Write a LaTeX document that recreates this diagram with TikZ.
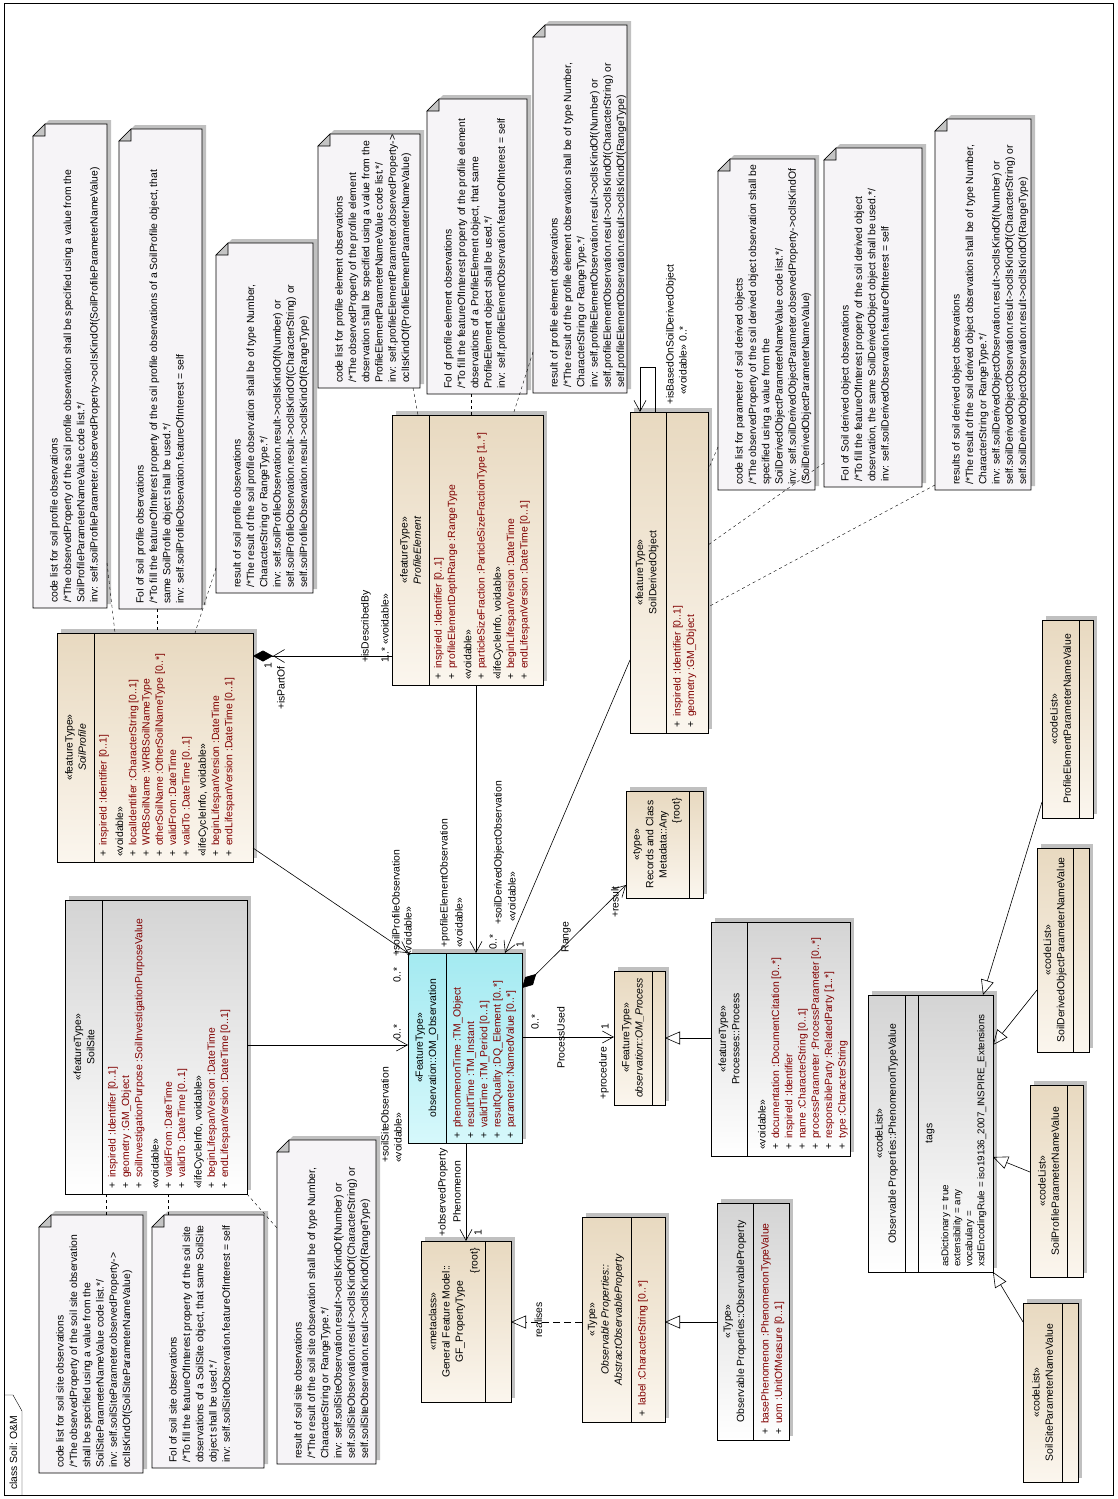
\documentclass[tikz,border=0pt]{standalone}
\usepackage{fontspec}
\setmainfont{Liberation Sans}
\usetikzlibrary{positioning, arrows.meta, fit, calc, shadows}

\definecolor{tanTop}{RGB}{232,217,192}
\definecolor{tanBot}{RGB}{251,246,238}
\definecolor{grayTop}{RGB}{212,212,212}
\definecolor{cyanTop}{RGB}{164,234,241}
\definecolor{cyanBot}{RGB}{214,248,251}
\definecolor{noteFill}{RGB}{246,244,247}
\definecolor{foldGray}{RGB}{196,196,196}
\definecolor{shadowGray}{RGB}{192,192,192}
\definecolor{attrRed}{RGB}{128,0,0}

\newcommand{\umlattr}[1]{\makebox[11pt][l]{+}\textcolor{attrRed}{#1}}

\begin{document}
\begin{tikzpicture}[
        x=1pt, y=-1pt,
        font=\fontsize{10.4}{13.3}\selectfont,
        >={Straight Barb[length=11pt, width=12pt]},
        umlbox/.style={draw, line width=0.6pt, inner sep=0pt, outer sep=0pt,
            drop shadow={shadow xshift=4pt, shadow yshift=4pt, fill=shadowGray, opacity=1}},
        tanbox/.style={umlbox, top color=tanTop, bottom color=tanBot},
        graybox/.style={umlbox, top color=grayTop, bottom color=white},
        cyanbox/.style={umlbox, top color=cyanTop, bottom color=cyanBot},
        notearea/.style={inner sep=0pt, outer sep=0pt},
        notebody/.style={fill=noteFill, line width=0.6pt,
            drop shadow={shadow xshift=4pt, shadow yshift=4pt, fill=shadowGray, opacity=1}},
        notetext/.style={rotate=90, anchor=north west, align=left, inner sep=0pt},
        hdr/.style={rotate=90, align=center, inner sep=0pt},
        attrs/.style={rotate=90, anchor=north west, align=left, inner sep=0pt},
        lbl/.style={rotate=90, anchor=west, inner sep=0pt},
        mult/.style={rotate=90, inner sep=0pt},
        assoc/.style={draw, line width=0.6pt},
        nav/.style={assoc, ->},
        gen/.style={assoc, -{Triangle[open, length=15pt, width=13pt]}},
        noteline/.style={draw, dash pattern=on 3pt off 3pt}
    ]

        % ======================================
        % Frame
        % ======================================
        \useasboundingbox (0,0) rectangle (1118,1499);
        \draw[line width=0.8pt] (4,3) rectangle (1113,1495);
        \draw (4,1395) -- (13,1395) -- (22,1411) -- (22,1495);
        \node[lbl] (title) at (13.5,1490) {class Soil: O\&M};

        % ======================================
        % Notes
        % ======================================
        \node[notearea, fit={(33,124) (107,608)}] (n1) {};
        \node[notearea, fit={(119,129) (202,609)}] (n2) {};
        \node[notearea, fit={(216,243) (313,593)}] (n3) {};
        \node[notearea, fit={(318,134) (420,388)}] (n4) {};
        \node[notearea, fit={(427,99) (527,394)}] (n5) {};
        \node[notearea, fit={(533,25) (627,393)}] (n6) {};
        \node[notearea, fit={(718,159) (815,490)}] (n7) {};
        \node[notearea, fit={(824,148) (922,487)}] (n8) {};
        \node[notearea, fit={(935,119) (1031,490)}] (n9) {};
        \node[notearea, fit={(39,1215) (143,1473)}] (n10) {};
        \node[notearea, fit={(152,1215) (264,1468)}] (n11) {};
        \node[notearea, fit={(277,1140) (376,1464)}] (n12) {};

        \foreach \n in {n1,n2,n3,n4,n5,n6,n7,n8,n9,n10,n11,n12} {
            \filldraw[notebody] ([xshift=12pt]\n.north west) -- (\n.north east) -- (\n.south east)
                -- (\n.south west) -- ([yshift=-12pt]\n.north west) -- cycle;
            \filldraw[fill=foldGray, line width=0.6pt] ([yshift=-12pt]\n.north west) -- ([xshift=12pt]\n.north west)
                -- ([xshift=12pt, yshift=-12pt]\n.north west) -- cycle;
        }

        \node[notetext] at ([xshift=17pt, yshift=5pt]n1.south west) {code list for soil profile observations\\
            /*The observedProperty of the soil profile observation shall be specified using a value from the\\
            SoilProfileParameterNameValue code list.*/\\
            inv: self.soilProfileParameter.observedProperty->oclIsKindOf(SoilProfileParameterNameValue)};
        \node[notetext] at ([xshift=17pt, yshift=5pt]n2.south west) {FoI of soil profile observations\\
            /*To fill the featureOfInterest property of the soil profile observations of a SoilProfile object, that\\
            same SoilProfile object shall be used.*/\\
            inv: self.soilProfileObservation.featureOfInterest = self};
        \node[notetext] at ([xshift=17pt, yshift=5pt]n3.south west) {result of soil profile observations\\
            /*The result of the soil profile observation shall be of type Number,\\
            CharacterString or RangeType.*/\\
            inv: self.soilProfileObservation.result->oclIsKindOf(Number) or\\
            self.soilProfileObservation.result->oclIsKindOf(CharacterString) or\\
            self.soilProfileObservation.result->oclIsKindOf(RangeType)};
        \node[notetext] at ([xshift=17pt, yshift=5pt]n4.south west) {code list for profile element observations\\
            /*The observedProperty of the  profile element\\
            observation shall be specified using a value from the\\
            ProfileElementParameterNameValue code list.*/\\
            inv: self.profileElementParameter.observedProperty->\\
            oclIsKindOf(ProfileElementParameterNameValue)};
        \node[notetext] at ([xshift=17pt, yshift=5pt]n5.south west) {FoI of profile element observations\\
            /*To fill the featureOfInterest property of the profile element\\
            observations of a ProfileElement object, that same\\
            ProfileElement object shall be used.*/\\
            inv: self.profileElementObservation.featureOfInterest = self};
        \node[notetext] at ([xshift=17pt, yshift=5pt]n6.south west) {result of profile element observations\\
            /*The result of the profile element observation shall be of type Number,\\
            CharacterString or RangeType.*/\\
            inv: self.profileElementObservation.result->oclIsKindOf(Number) or\\
            self.profileElementObservation.result->oclIsKindOf(CharacterString) or\\
            self.profileElementObservation.result->oclIsKindOf(RangeType)};
        \node[notetext] at ([xshift=17pt, yshift=5pt]n7.south west) {code list for parameter of soil derived objects\\
            /*The observedProperty of the soil derived object observation shall be\\
            specified using a value from the\\
            SoilDerivedObjectParameterNameValue code list.*/\\
            inv: self.soilDerivedObjectParameter.observedProperty->oclIsKindOf\\
            (SoilDerivedObjectParameterNameValue)};
        \node[notetext] at ([xshift=17pt, yshift=5pt]n8.south west) {FoI of Soil derived object observations\\
            /*To fill the featureOfInterest property of the soil derived object\\
            observation, the same SoilDerivedObject object shall be used.*/\\
            inv: self.soilDerivedObservation.featureOfInterest = self};
        \node[notetext] at ([xshift=17pt, yshift=5pt]n9.south west) {results of soil derived object observations\\
            /*The result of the soil derived object observation shall be of type Number,\\
            CharacterString or RangeType.*/\\
            inv: self.soilDerivedObjectObservation.result->oclIsKindOf(Number) or\\
            self.soilDerivedObjectObservation.result->oclIsKindOf(CharacterString) or\\
            self.soilDerivedObjectObservation.result->oclIsKindOf(RangeType)};
        \node[notetext] at ([xshift=17pt, yshift=5pt]n10.south west) {code list for soil site observations\\
            /*The observedProperty of the soil site observation\\
            shall be specified using a value from the\\
            SoilSiteParameterNameValue code list.*/\\
            inv: self.soilSiteParameter.observedProperty->\\
            oclIsKindOf(SoilSiteParameterNameValue)};
        \node[notetext] at ([xshift=17pt, yshift=5pt]n11.south west) {FoI of soil site observations\\
            /*To fill the featureOfInterest property of the soil site\\
            observations of a SoilSite object, that same SoilSite\\
            object shall be used.*/\\
            inv: self.soilSiteObservation.featureOfInterest = self};
        \node[notetext] at ([xshift=17pt, yshift=5pt]n12.south west) {result of soil site observations\\
            /*The result of the soil site observation shall be of type Number,\\
            CharacterString or RangeType.*/\\
            inv: self.soilSiteObservation.result->oclIsKindOf(Number) or\\
            self.soilSiteObservation.result->oclIsKindOf(CharacterString) or\\
            self.soilSiteObservation.result->oclIsKindOf(RangeType)};

        % ======================================
        % Soil feature types
        % ======================================
        \node[tanbox, fit={(57,633) (253,862)}] (soilprofile) {};
        \draw[line width=0.6pt] (94,633) -- (94,862);
        \node[hdr] at (75.5,747.5) {«featureType»\\\textit{SoilProfile}};
        \node[attrs] at (99,857) {\umlattr{inspireId :Identifier [0..1]}\\[3pt]
            «voidable»\\
            \umlattr{localIdentifier :CharacterString [0..1]}\\
            \umlattr{WRBSoilName :WRBSoilNameType}\\
            \umlattr{otherSoilName :OtherSoilNameType [0..*]}\\
            \umlattr{validFrom :DateTime}\\
            \umlattr{validTo :DateTime [0..1]}\\[3pt]
            «lifeCycleInfo, voidable»\\
            \umlattr{beginLifespanVersion :DateTime}\\
            \umlattr{endLifespanVersion :DateTime [0..1]}};

        \node[tanbox, fit={(392,415) (543,685)}] (profelem) {};
        \draw[line width=0.6pt] (429,415) -- (429,685);
        \node[hdr] at (410.5,550) {«featureType»\\\textit{ProfileElement}};
        \node[attrs] at (434,680) {\umlattr{inspireId :Identifier [0..1]}\\
            \umlattr{profileElementDepthRange :RangeType}\\[3pt]
            «voidable»\\
            \umlattr{particleSizeFraction :ParticleSizeFractionType [1..*]}\\[3pt]
            «lifeCycleInfo, voidable»\\
            \umlattr{beginLifespanVersion :DateTime}\\
            \umlattr{endLifespanVersion :DateTime [0..1]}};

        \node[tanbox, fit={(630,412) (708,733)}] (soilderived) {};
        \draw[line width=0.6pt] (666,412) -- (666,733);
        \node[hdr] at (647,572.5) {«featureType»\\SoilDerivedObject};
        \node[attrs] at (673,728) {\umlattr{inspireId :Identifier [0..1]}\\
            \umlattr{geometry :GM\_Object}};

        \node[graybox, fit={(65,900) (247,1194)}] (soilsite) {};
        \draw[line width=0.6pt] (102,900) -- (102,1194);
        \node[hdr] at (84,1047) {«featureType»\\SoilSite};
        \node[attrs] at (108,1189) {\umlattr{inspireId :Identifier [0..1]}\\
            \umlattr{geometry :GM\_Object}\\
            \umlattr{soilInvestigationPurpose :SoilInvestigationPurposeValue}\\[3pt]
            «voidable»\\
            \umlattr{validFrom :DateTime}\\
            \umlattr{validTo :DateTime [0..1]}\\[3pt]
            «lifeCycleInfo, voidable»\\
            \umlattr{beginLifespanVersion :DateTime}\\
            \umlattr{endLifespanVersion :DateTime [0..1]}};

        % ======================================
        % O&M types
        % ======================================
        \node[cyanbox, fit={(408,953) (522,1143)}] (omobs) {};
        \draw[line width=0.6pt] (446,953) -- (446,1143);
        \node[hdr] at (427,1048) {«FeatureType»\\observation::OM\_Observation};
        \node[attrs] at (453,1139) {\umlattr{phenomenonTime :TM\_Object}\\
            \umlattr{resultTime :TM\_Instant}\\
            \umlattr{validTime :TM\_Period [0..1]}\\
            \umlattr{resultQuality :DQ\_Element [0..*]}\\
            \umlattr{parameter :NamedValue [0..*]}};

        \node[tanbox, fit={(614,971) (665,1105)}] (omproc) {};
        \draw[line width=0.6pt] (652,971) -- (652,1105);
        \node[hdr] at (633,1038) {«FeatureType»\\\textit{observation::OM\_Process}};

        \node[graybox, fit={(711,922) (850,1156)}] (process) {};
        \draw[line width=0.6pt] (747,922) -- (747,1156);
        \node[hdr] at (729,1039) {«featureType»\\Processes::Process};
        \node[attrs] at (758,1150) {«voidable»\\
            \umlattr{documentation :DocumentCitation [0..*]}\\
            \umlattr{inspireId :Identifier}\\
            \umlattr{name :CharacterString [0..1]}\\
            \umlattr{processParameter :ProcessParameter [0..*]}\\
            \umlattr{responsibleParty :RelatedParty [1..*]}\\
            \umlattr{type :CharacterString}};

        \node[tanbox, fit={(626,791) (703,898)}] (records) {};
        \draw[line width=0.6pt] (689,791) -- (689,898);
        \node[hdr] at (651,844.5) {«type»\\Records and Class\\Metadata::Any};
        \node[mult, anchor=east] at (677,798) {\{root\}};

        % ======================================
        % Observable properties
        % ======================================
        \node[tanbox, fit={(421,1241) (511,1402)}] (gfprop) {};
        \draw[line width=0.6pt] (485,1241) -- (485,1402);
        \node[hdr] at (447,1321.5) {«metaclass»\\General Feature Model::\\GF\_PropertyType};
        \node[mult, anchor=east] at (475,1248) {\{root\}};

        \node[tanbox, fit={(582,1217) (665,1422)}] (absobs) {};
        \draw[line width=0.6pt] (631,1217) -- (631,1422);
        \node[hdr] at (606,1319.5) {«Type»\\\textit{Observable Properties::}\\\textit{AbstractObservableProperty}};
        \node[attrs] at (638,1417) {\umlattr{label :CharacterString [0..*]}};

        \node[graybox, fit={(717,1203) (789,1440)}] (obsprop) {};
        \draw[line width=0.6pt] (753,1203) -- (753,1440);
        \node[hdr] at (735,1321.5) {«Type»\\Observable Properties::ObservableProperty};
        \node[attrs] at (761,1435) {\umlattr{basePhenomenon :PhenomenonTypeValue}\\
            \umlattr{uom :UnitOfMeasure [0..1]}};

        \node[graybox, fit={(868,995) (993,1272)}] (phentype) {};
        \draw[line width=0.6pt] (905,995) -- (905,1272);
        \draw[line width=0.6pt] (918,995) -- (918,1272);
        \node[hdr] at (886.5,1133.5) {«codeList»\\Observable Properties::PhenomenonTypeValue};
        \node[hdr] at (930,1133.5) {tags};
        \node[attrs, font=\fontsize{9.8}{12}\selectfont] at (941,1267) {asDictionary = true\\
            extensibility = any\\
            vocabulary =\\
            xsdEncodingRule = iso19136\_2007\_INSPIRE\_Extensions};

        % code lists
        \node[tanbox, fit={(1042,620) (1093,818)}] (cl1) {};
        \draw[line width=0.6pt] (1079,620) -- (1079,818);
        \node[hdr] at (1060.5,719) {«codeList»\\ProfileElementParameterNameValue};

        \node[tanbox, fit={(1037,848) (1089,1052)}] (cl2) {};
        \draw[line width=0.6pt] (1073,848) -- (1073,1052);
        \node[hdr] at (1055,950) {«codeList»\\SoilDerivedObjectParameterNameValue};

        \node[tanbox, fit={(1030,1085) (1083,1277)}] (cl3) {};
        \draw[line width=0.6pt] (1067,1085) -- (1067,1277);
        \node[hdr] at (1048.5,1181) {«codeList»\\SoilProfileParameterNameValue};

        \node[tanbox, fit={(1023,1303) (1078,1482)}] (cl4) {};
        \draw[line width=0.6pt] (1062,1303) -- (1062,1482);
        \node[hdr] at (1042.5,1392.5) {«codeList»\\SoilSiteParameterNameValue};

        % ======================================
        % Associations
        % ======================================
        % SoilProfile <>- ProfileElement
        \draw[assoc, {Diamond[length=20pt, width=11pt]}-] (soilprofile.east |- 0,656) -- (profelem.west |- 0,656);
        \draw[assoc, {Straight Barb[length=11pt, width=13pt]}-, shorten <=20pt] (soilprofile.east |- 0,656) -- (profelem.west |- 0,656);
        \node[mult] at (268,666) {1};
        \node[lbl] at (281,710) {+isPartOf};
        \node[lbl] at (366,663) {+isDescribedBy};
        \node[lbl] at (385,663) {1..* «voidable»};

        % SoilProfile -> observation
        \draw[nav] (soilprofile.east |- 0,848) -- (omobs.north west);
        \node[lbl] at (397,983) {0..*};
        \node[lbl] at (396,957) {+soilProfileObservation};
        \node[lbl] at (408,957) {«voidable»};

        % ProfileElement -> observation
        \draw[nav] (476,0 |- profelem.south) -- (476,0 |- omobs.north);
        \node[lbl] at (445,948) {+profileElementObservation};
        \node[lbl] at (459,948) {«voidable»};

        % SoilDerivedObject -> observation
        \draw[nav] (soilderived.west |- 0,660) -- (505,0 |- omobs.north);
        \node[lbl] at (493,950) {0..*};
        \node[mult] at (520,945) {1};
        \node[lbl] at (499,925) {+soilDerivedObjectObservation};
        \node[lbl] at (512,922) {«voidable»};

        % SoilDerivedObject self association
        \draw[nav] (655,0 |- soilderived.north) -- ++(0,-45) -| (640,0 |- soilderived.north);
        \node[lbl] at (671,405) {+isBasedOnSoilDerivedObject};
        \node[lbl] at (683,395) {«voidable» 0..*};

        % SoilSite -> observation
        \draw[nav] (soilsite.east |- 0,1045) -- (omobs.west |- 0,1045);
        \node[lbl] at (397,1040) {0..*};
        \node[lbl] at (385,1163) {+soilSiteObservation};
        \node[lbl] at (398,1163) {«voidable»};

        % observation <>- result
        \draw[assoc, {Diamond[length=20pt, width=11pt]}->] (omobs.east |- 0,988) -- (records.west |- 0,885);
        \node[mult] at (566,937) {Range};
        \node[lbl] at (615,918) {+result};

        % observation -> procedure
        \draw[nav] (omobs.east |- 0,1037) -- (omproc.west |- 0,1037);
        \node[lbl] at (535,1030) {0..*};
        \node[mult] at (561,1038) {ProcessUsed};
        \node[mult] at (605,1027) {1};
        \node[lbl] at (604,1100) {+procedure};
        \draw[gen] (process.west |- 0,1038) -- (omproc.east |- 0,1038);

        % observation -> observed property
        \draw[nav] (466,0 |- omobs.south) -- (466,0 |- gfprop.north);
        \node[lbl] at (443,1237) {+observedProperty};
        \node[lbl] at (457,1223) {Phenomenon};
        \node[mult] at (478,1233) {1};

        % realisation and generalisation
        \draw[gen, dash pattern=on 7pt off 4pt] (absobs.west |- 0,1322) -- (gfprop.east |- 0,1322);
        \node[mult] at (538.5,1320) {realises};
        \draw[gen] (obsprop.west |- 0,1322) -- (absobs.east |- 0,1322);

        % code lists -> PhenomenonTypeValue
        \draw[gen] (cl1.west |- 0,802) -- (983,0 |- phentype.north);
        \draw[gen] (cl2.west |- 0,990) -- (phentype.east |- 0,1045);
        \draw[gen] (cl3.west |- 0,1172) -- (phentype.east |- 0,1157);
        \draw[gen] (cl4.west |- 0,1322) -- (phentype.south east);

        % ======================================
        % Note links
        % ======================================
        \draw[noteline] (n1.east |- 0,563) -- (115,0 |- soilprofile.north);
        \draw[noteline] (157,0 |- n2.south) -- (157,0 |- soilprofile.north);
        \draw[noteline] (n3.west |- 0,568) -- (195,0 |- soilprofile.north);
        \draw[noteline] (413,0 |- n4.south) -- (418,0 |- profelem.north);
        \draw[noteline] (471,0 |- n5.south) -- (471,0 |- profelem.north);
        \draw[noteline] (n6.west |- 0,352) -- (513,0 |- profelem.north);
        \draw[noteline] (n7.west |- 0,447) -- (soilderived.east |- 0,470);
        \draw[noteline] (n8.west |- 0,463) -- (soilderived.east |- 0,545);
        \draw[noteline] (n9.west |- 0,485) -- (soilderived.east |- 0,607);
        \draw[noteline] (106,0 |- n10.north) -- (106,0 |- soilsite.south);
        \draw[noteline] (168,0 |- n11.north) -- (168,0 |- soilsite.south);
        \draw[noteline] (soilsite.south east) -- (n12.west |- 0,1228);

    \end{tikzpicture}
\end{document}
